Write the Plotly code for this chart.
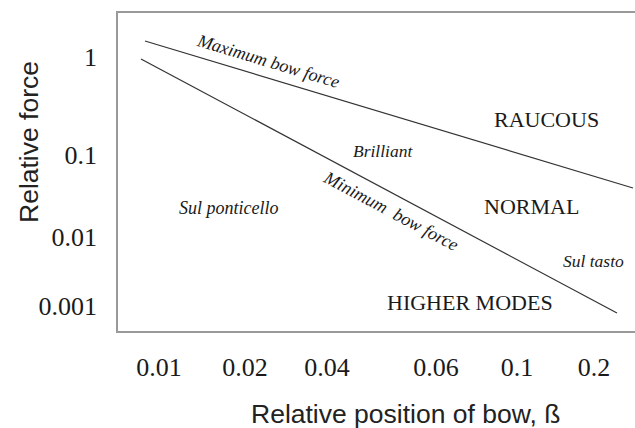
import plotly.graph_objects as go

# Axis scale: positions along the (non-uniform) printed scales
x_tick_pos = [41, 127, 209, 318, 399, 476]
x_tick_text = ["0.01", "0.02", "0.04", "0.06", "0.1", "0.2"]
y_tick_pos = [274, 176, 94, 25]
y_tick_text = ["1", "0.1", "0.01", "0.001"]

# Boundary lines (in axis units)
max_force_x = [27, 515]
max_force_y = [290, 143]
min_force_x = [23, 499]
min_force_y = [272, 18]

# Region labels
labels = [
    ("Maximum bow force", 150, 270, True, 16.8, 18),
    ("Minimum  bow force", 273, 120, True, 28, 18),
    ("Brilliant", 265, 180, True, 0, 17.5),
    ("Sul ponticello", 110, 123, True, 0, 18),
    ("Sul tasto", 475, 70, True, 0, 17.5),
    ("RAUCOUS", 428, 212, False, 0, 22),
    ("NORMAL", 413, 125, False, 0, 22),
    ("HIGHER MODES", 352, 29, False, 0, 22),
]

fig = go.Figure()
line_style = dict(color="#333333", width=1.2)
fig.add_trace(go.Scatter(x=max_force_x, y=max_force_y, mode="lines", line=line_style,
                         hoverinfo="skip", showlegend=False))
fig.add_trace(go.Scatter(x=min_force_x, y=min_force_y, mode="lines", line=line_style,
                         hoverinfo="skip", showlegend=False))

serif = "Liberation Serif, Times New Roman, serif"
sans = "Liberation Sans, Arial, sans-serif"

for text, x, y, italic, ang, size in labels:
    fig.add_annotation(
        x=x, y=y, xref="x", yref="y",
        text=f"<i>{text}</i>" if italic else text,
        showarrow=False, textangle=ang,
        font=dict(family=serif, size=size, color="#1a1a1a"),
        xanchor="center", yanchor="middle",
    )

fig.add_annotation(
    x=(29 - 118) / 517, y=(331 - 142) / 318, xref="paper", yref="paper",
    text="Relative force", showarrow=False, textangle=-90,
    font=dict(family=sans, size=26.5, color="#222222"),
    xanchor="center", yanchor="middle",
)
fig.add_annotation(
    x=(405 - 118) / 517, y=(331 - 414) / 318, xref="paper", yref="paper",
    text="Relative position of bow, ß", showarrow=False,
    font=dict(family=sans, size=26.5, color="#222222"),
    xanchor="center", yanchor="middle",
)

fig.update_xaxes(
    range=[0, 517], tickvals=x_tick_pos, ticktext=x_tick_text,
    showgrid=False, zeroline=False, showline=True, mirror=True,
    linecolor="#999999", linewidth=1.5,
    ticks="outside", ticklen=12, tickcolor="rgba(0,0,0,0)",
    tickfont=dict(family=serif, size=26, color="#1a1a1a"),
    fixedrange=True,
)
fig.update_yaxes(
    range=[0, 318], tickvals=y_tick_pos, ticktext=y_tick_text,
    showgrid=False, zeroline=False, showline=True, mirror=False,
    linecolor="#999999", linewidth=1.5,
    ticks="outside", ticklen=14, tickcolor="rgba(0,0,0,0)",
    tickfont=dict(family=serif, size=26, color="#1a1a1a"),
    fixedrange=True,
)

fig.update_layout(
    width=635, height=428,
    margin=dict(l=118, r=0, t=13, b=97),
    paper_bgcolor="white", plot_bgcolor="white",
    showlegend=False,
)

fig.write_html(
    "out.html",
    config={"displayModeBar": False},
    post_script="document.body.style.margin='0';document.body.style.overflow='hidden';",
)
